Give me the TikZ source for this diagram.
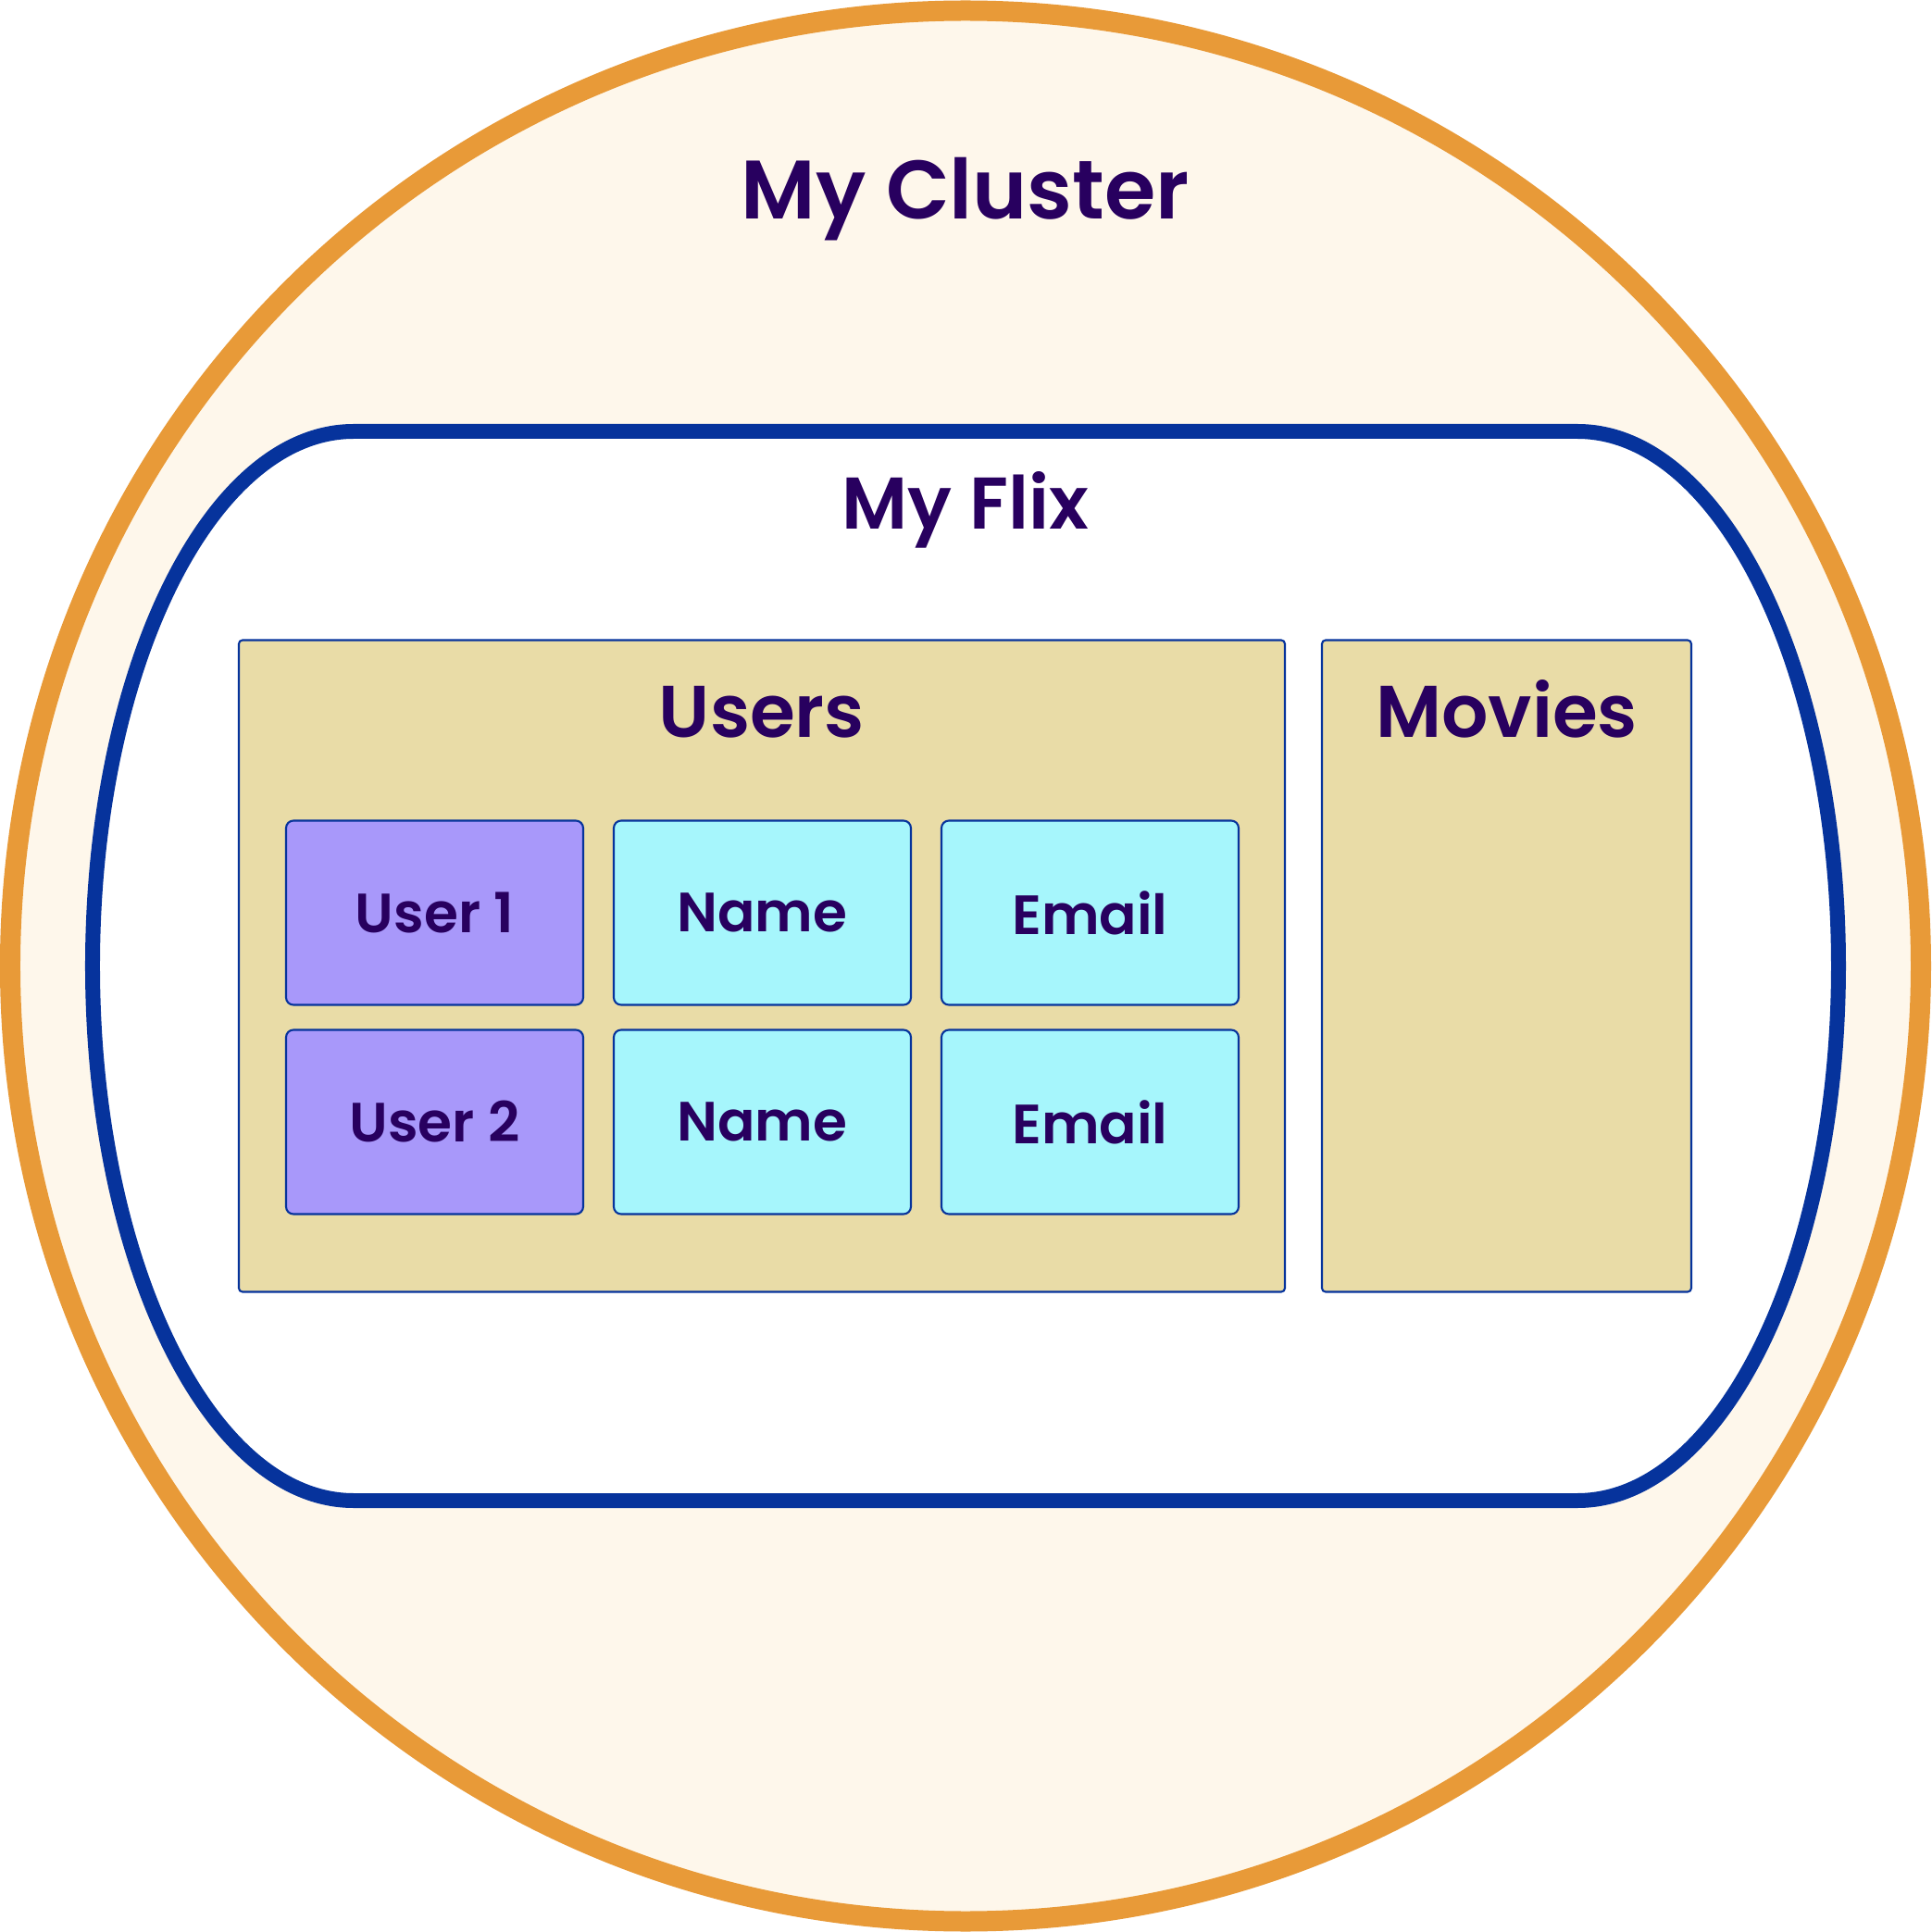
\documentclass[tikz,border=0pt]{standalone}
\usepackage{fontspec}
\setmainfont{Poppins}[BoldFont={Poppins SemiBold}]
\usetikzlibrary{positioning}
\definecolor{clusterline}{HTML}{E89A38}
\definecolor{clusterfill}{HTML}{FEF7EB}
\definecolor{appline}{HTML}{06339C}
\definecolor{tablefill}{HTML}{E9DCA7}
\definecolor{keyfill}{HTML}{A898FA}
\definecolor{fieldfill}{HTML}{A6F6FC}
\definecolor{textpurple}{HTML}{28005F}
\tikzset{
  bigtitle/.style  = {font=\fontsize{25.5}{28}\selectfont\bfseries, text=textpurple,
                      anchor=base, inner sep=0pt},
  title/.style     = {font=\fontsize{22.5}{25}\selectfont\bfseries, text=textpurple,
                      anchor=base, inner sep=0pt},
  table/.style     = {rectangle, rounded corners=0.04cm, draw=appline, line width=0.6pt,
                      fill=tablefill, minimum height=7.04cm, outer sep=0pt},
  cell/.style      = {rectangle, rounded corners=0.08cm, draw=appline, line width=0.6pt,
                      minimum width=3.21cm, minimum height=1.99cm, outer sep=0pt,
                      font=\fontsize{17}{19}\selectfont\bfseries, text=textpurple},
  keycell/.style   = {cell, fill=keyfill},
  fieldcell/.style = {cell, fill=fieldfill},
}
\begin{document}
\begin{tikzpicture}
  \useasboundingbox (-10.43,-10.435) rectangle (10.43,10.435);

  % cluster
  \draw[line width=0.22cm, draw=clusterline, fill=clusterfill] (0,0) circle[radius=10.32];
  \node[bigtitle] (cluster) at (0,8.065) {My Cluster};

  % app
  \draw[line width=0.16cm, draw=appline, fill=white]
    (-6.61,5.775) -- (6.61,5.775)
    arc[start angle=90, end angle=-90, x radius=2.82, y radius=5.775]
    -- (-6.61,-5.775)
    arc[start angle=270, end angle=90, x radius=2.82, y radius=5.775] -- cycle;
  \node[title] (app) at (0,4.715) {My Flix};

  % tables
  \node[table, minimum width=11.30cm] (users) at (-2.20,0) {};
  \node[table, minimum width=3.99cm, right=0.40cm of users] (movies) {};
  \node[title] (userstitle) at ([yshift=-1.05cm]users.north) {Users};
  \node[title] (moviestitle) at ([yshift=-1.05cm]movies.north) {Movies};

  % user rows
  \node[keycell, below right=1.95cm and 0.51cm of users.north west] (user1) {User 1};
  \node[fieldcell, right=0.33cm of user1] (name1) {Name};
  \node[fieldcell, right=0.33cm of name1] (email1) {Email};
  \node[keycell, below=0.27cm of user1] (user2) {User 2};
  \node[fieldcell, right=0.33cm of user2] (name2) {Name};
  \node[fieldcell, right=0.33cm of name2] (email2) {Email};
\end{tikzpicture}
\end{document}
